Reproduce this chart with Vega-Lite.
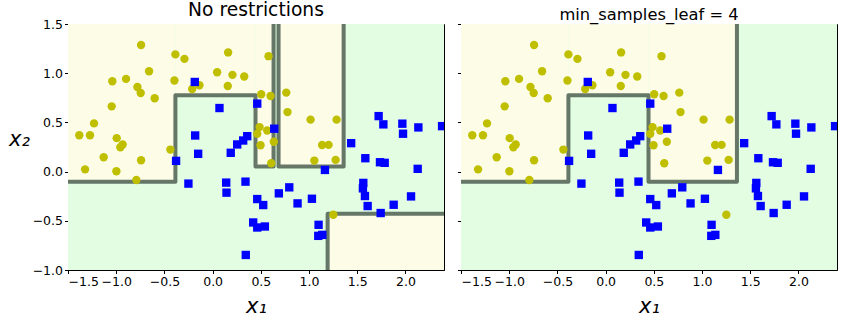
{
  "$schema": "https://vega.github.io/schema/vega-lite/v6.json",
  "padding": {"left": 8, "top": 0, "right": 0, "bottom": 0},
  "bounds": "flush",
  "spacing": 17,
  "config": {
    "font": "DejaVu Sans",
    "view": {"stroke": "black", "strokeWidth": 1},
    "axis": {"domainColor": "black", "tickColor": "black", "labelColor": "black", "labelFontSize": 12.5, "tickSize": 3.5, "labelPadding": 2, "grid": false, "titleColor": "black", "titleFontWeight": "normal", "domainWidth": 1, "tickWidth": 1, "labelFont": "DejaVu Sans"},
    "title": {"fontWeight": "normal", "color": "black", "font": "DejaVu Sans"}
  },
  "datasets": {
    "pts": [
      {"x": -0.742, "y": 1.286, "label": 0}, {"x": -0.386, "y": 1.191, "label": 0}, {"x": -0.292, "y": 1.146, "label": 0}, {"x": 0.161, "y": 1.211, "label": 0},
      {"x": -0.659, "y": 1.02, "label": 0}, {"x": -1.04, "y": 0.918, "label": 0}, {"x": -0.898, "y": 0.942, "label": 0}, {"x": -0.78, "y": 0.86, "label": 0},
      {"x": -0.746, "y": 0.799, "label": 0}, {"x": -0.601, "y": 0.745, "label": 0}, {"x": -0.396, "y": 0.926, "label": 0}, {"x": -0.212, "y": 0.84, "label": 0},
      {"x": -0.137, "y": 0.878, "label": 0}, {"x": 0.047, "y": 1.01, "label": 0}, {"x": 0.206, "y": 0.983, "label": 0}, {"x": 0.328, "y": 0.966, "label": 0},
      {"x": 0.157, "y": 0.87, "label": 0}, {"x": -1.047, "y": 0.663, "label": 0}, {"x": -1.23, "y": 0.49, "label": 0}, {"x": -1.383, "y": 0.37, "label": 0},
      {"x": -1.272, "y": 0.37, "label": 0}, {"x": -0.995, "y": 0.34, "label": 0}, {"x": -0.933, "y": 0.276, "label": 0}, {"x": -0.957, "y": 0.248, "label": 0},
      {"x": -0.438, "y": 0.224, "label": 0}, {"x": 0.504, "y": 0.786, "label": 0}, {"x": 0.601, "y": 0.768, "label": 0}, {"x": 0.764, "y": 0.803, "label": 0},
      {"x": 0.58, "y": 1.173, "label": 0}, {"x": 0.777, "y": 0.605, "label": 0}, {"x": 1.016, "y": 0.528, "label": 0}, {"x": 1.286, "y": 0.528, "label": 0},
      {"x": 0.487, "y": 0.452, "label": 0}, {"x": 0.463, "y": 0.385, "label": 0}, {"x": 0.566, "y": 0.418, "label": 0}, {"x": 0.635, "y": 0.303, "label": 0},
      {"x": 0.497, "y": 0.268, "label": 0}, {"x": 1.136, "y": 0.27, "label": 0}, {"x": 1.203, "y": 0.272, "label": 0}, {"x": -1.13, "y": 0.146, "label": 0},
      {"x": -0.742, "y": 0.115, "label": 0}, {"x": -1.323, "y": 0.023, "label": 0}, {"x": -0.998, "y": 0.003, "label": 0}, {"x": -0.791, "y": -0.085, "label": 0},
      {"x": 0.608, "y": 0.085, "label": 0}, {"x": 1.055, "y": 0.112, "label": 0}, {"x": 1.276, "y": 0.119, "label": 0}, {"x": 1.252, "y": -0.439, "label": 0},
      {"x": -0.185, "y": 0.911, "label": 1}, {"x": 0.071, "y": 0.646, "label": 1}, {"x": 0.463, "y": 0.691, "label": 1}, {"x": -0.181, "y": 0.367, "label": 1},
      {"x": 0.359, "y": 0.36, "label": 1}, {"x": 0.317, "y": 0.316, "label": 1}, {"x": 0.255, "y": 0.276, "label": 1}, {"x": 0.639, "y": 0.436, "label": 1},
      {"x": -0.15, "y": 0.181, "label": 1}, {"x": 0.188, "y": 0.191, "label": 1}, {"x": -0.379, "y": 0.109, "label": 1}, {"x": -0.251, "y": -0.122, "label": 1},
      {"x": 0.141, "y": -0.112, "label": 1}, {"x": 0.144, "y": -0.214, "label": 1}, {"x": 0.341, "y": -0.102, "label": 1}, {"x": 0.463, "y": -0.279, "label": 1},
      {"x": 0.525, "y": -0.34, "label": 1}, {"x": 0.421, "y": -0.517, "label": 1}, {"x": 0.463, "y": -0.568, "label": 1}, {"x": 0.542, "y": -0.558, "label": 1},
      {"x": 0.344, "y": -0.847, "label": 1}, {"x": 0.795, "y": -0.16, "label": 1}, {"x": 0.687, "y": -0.221, "label": 1}, {"x": 0.881, "y": -0.323, "label": 1},
      {"x": 1.03, "y": -0.276, "label": 1}, {"x": 1.099, "y": -0.541, "label": 1}, {"x": 1.096, "y": -0.653, "label": 1}, {"x": 1.138, "y": -0.643, "label": 1},
      {"x": 1.165, "y": 0.017, "label": 1}, {"x": 1.437, "y": 0.289, "label": 1}, {"x": 1.584, "y": 0.136, "label": 1}, {"x": 1.736, "y": 0.095, "label": 1},
      {"x": 1.785, "y": 0.089, "label": 1}, {"x": 2.127, "y": 0.028, "label": 1}, {"x": 1.563, "y": -0.115, "label": 1}, {"x": 1.559, "y": -0.17, "label": 1},
      {"x": 1.58, "y": -0.248, "label": 1}, {"x": 1.608, "y": -0.35, "label": 1}, {"x": 1.878, "y": -0.337, "label": 1}, {"x": 2.058, "y": -0.252, "label": 1},
      {"x": 1.743, "y": -0.421, "label": 1}, {"x": 1.722, "y": 0.564, "label": 1}, {"x": 1.771, "y": 0.48, "label": 1}, {"x": 1.968, "y": 0.487, "label": 1},
      {"x": 1.975, "y": 0.385, "label": 1}, {"x": 2.134, "y": 0.449, "label": 1}, {"x": 2.38, "y": 0.462, "label": 1}
    ],
    "regL": [
      {"x": -1.5, "x2": 2.4, "y": -1, "y2": 1.5, "c": "green"},
      {"x": -1.5, "x2": -0.386, "y": -0.102, "y2": 1.5, "c": "yellow"},
      {"x": -0.386, "x2": 0.445, "y": 0.776, "y2": 1.5, "c": "yellow"},
      {"x": 0.445, "x2": 0.632, "y": 0.051, "y2": 1.5, "c": "yellow"},
      {"x": 0.684, "x2": 1.359, "y": 0.051, "y2": 1.5, "c": "yellow"},
      {"x": 1.193, "x2": 2.4, "y": -1, "y2": -0.429, "c": "yellow"}
    ],
    "regR": [
      {"x": -1.5, "x2": 2.4, "y": -1, "y2": 1.5, "c": "green"},
      {"x": -1.5, "x2": -0.386, "y": -0.102, "y2": 1.5, "c": "yellow"},
      {"x": -0.386, "x2": 0.445, "y": 0.776, "y2": 1.5, "c": "yellow"},
      {"x": 0.445, "x2": 1.362, "y": -0.102, "y2": 1.5, "c": "yellow"}
    ],
    "lineL": [
      {"seg": "a", "i": 0, "x": -1.5, "y": -0.102}, {"seg": "a", "i": 1, "x": -0.386, "y": -0.102}, {"seg": "a", "i": 2, "x": -0.386, "y": 0.776},
      {"seg": "a", "i": 3, "x": 0.445, "y": 0.776}, {"seg": "a", "i": 4, "x": 0.445, "y": 0.051}, {"seg": "a", "i": 5, "x": 0.632, "y": 0.051},
      {"seg": "a", "i": 6, "x": 0.632, "y": 1.5},
      {"seg": "b", "i": 0, "x": 0.684, "y": 1.5}, {"seg": "b", "i": 1, "x": 0.684, "y": 0.051}, {"seg": "b", "i": 2, "x": 1.359, "y": 0.051},
      {"seg": "b", "i": 3, "x": 1.359, "y": 1.5},
      {"seg": "c", "i": 0, "x": 1.193, "y": -1}, {"seg": "c", "i": 1, "x": 1.193, "y": -0.429}, {"seg": "c", "i": 2, "x": 2.4, "y": -0.429}
    ],
    "lineR": [
      {"seg": "a", "i": 0, "x": -1.5, "y": -0.102}, {"seg": "a", "i": 1, "x": -0.386, "y": -0.102}, {"seg": "a", "i": 2, "x": -0.386, "y": 0.776},
      {"seg": "a", "i": 3, "x": 0.445, "y": 0.776}, {"seg": "a", "i": 4, "x": 0.445, "y": -0.102}, {"seg": "a", "i": 5, "x": 1.362, "y": -0.102},
      {"seg": "a", "i": 6, "x": 1.362, "y": 1.5}
    ]
  },
  "hconcat": [
    {
      "width": 376, "height": 246,
      "title": {"text": "No restrictions", "fontSize": 18.7, "offset": -2},
      "layer": [
        {
          "data": {"name": "regL"},
          "mark": {"type": "rect", "clip": true},
          "encoding": {
            "x": {"field": "x", "type": "quantitative", "scale": {"domain": [-1.5, 2.4], "nice": false, "zero": false},
                  "axis": {"values": [-1.5, -1, -0.5, 0, 0.5, 1, 1.5, 2], "format": ".1f", "title": "x₁", "titleFontSize": 21, "titleFontStyle": "italic", "titleY": 42, "titleBaseline": "alphabetic"}},
            "x2": {"field": "x2"},
            "y": {"field": "y", "type": "quantitative", "scale": {"domain": [-1, 1.5], "nice": false, "zero": false},
                  "axis": {"values": [-1, -0.5, 0, 0.5, 1, 1.5], "format": ".1f", "title": "x₂", "titleFontSize": 21, "titleFontStyle": "italic", "titleAngle": 0, "titleX": -49, "titleY": 121, "titleAlign": "center", "titleBaseline": "alphabetic"}},
            "y2": {"field": "y2"},
            "color": {"field": "c", "type": "nominal", "scale": {"domain": ["green", "yellow"], "range": ["#e2fde2", "#fdfde7"]}, "legend": null}
          }
        },
        {
          "data": {"name": "lineL"},
          "mark": {"type": "line", "color": "#56685a", "strokeWidth": 4, "strokeJoin": "round", "clip": true, "opacity": 0.9},
          "encoding": {
            "x": {"field": "x", "type": "quantitative"},
            "y": {"field": "y", "type": "quantitative"},
            "detail": {"field": "seg"},
            "order": {"field": "i"}
          }
        },
        {
          "data": {"name": "pts"},
          "mark": {"type": "point", "filled": true, "opacity": 1, "size": 70, "clip": true},
          "encoding": {
            "x": {"field": "x", "type": "quantitative"},
            "y": {"field": "y", "type": "quantitative"},
            "shape": {"field": "label", "type": "nominal", "scale": {"domain": [0, 1], "range": ["circle", "square"]}, "legend": null},
            "fill": {"field": "label", "type": "nominal", "scale": {"domain": [0, 1], "range": ["#bfbf00", "#0000ff"]}, "legend": null}
          }
        }
      ]
    },
    {
      "width": 376, "height": 246,
      "title": {"text": "min_samples_leaf = 4", "fontSize": 16.3, "offset": 0},
      "layer": [
        {
          "data": {"name": "regR"},
          "mark": {"type": "rect", "clip": true},
          "encoding": {
            "x": {"field": "x", "type": "quantitative", "scale": {"domain": [-1.5, 2.4], "nice": false, "zero": false},
                  "axis": {"values": [-1.5, -1, -0.5, 0, 0.5, 1, 1.5, 2], "format": ".1f", "title": "x₁", "titleFontSize": 21, "titleFontStyle": "italic", "titleY": 42, "titleBaseline": "alphabetic"}},
            "x2": {"field": "x2"},
            "y": {"field": "y", "type": "quantitative", "scale": {"domain": [-1, 1.5], "nice": false, "zero": false},
                  "axis": {"values": [-1, -0.5, 0, 0.5, 1, 1.5], "labels": false, "title": null}},
            "y2": {"field": "y2"},
            "color": {"field": "c", "type": "nominal", "scale": {"domain": ["green", "yellow"], "range": ["#e2fde2", "#fdfde7"]}, "legend": null}
          }
        },
        {
          "data": {"name": "lineR"},
          "mark": {"type": "line", "color": "#56685a", "strokeWidth": 4, "strokeJoin": "round", "clip": true, "opacity": 0.9},
          "encoding": {
            "x": {"field": "x", "type": "quantitative"},
            "y": {"field": "y", "type": "quantitative"},
            "detail": {"field": "seg"},
            "order": {"field": "i"}
          }
        },
        {
          "data": {"name": "pts"},
          "mark": {"type": "point", "filled": true, "opacity": 1, "size": 70, "clip": true},
          "encoding": {
            "x": {"field": "x", "type": "quantitative"},
            "y": {"field": "y", "type": "quantitative"},
            "shape": {"field": "label", "type": "nominal", "scale": {"domain": [0, 1], "range": ["circle", "square"]}, "legend": null},
            "fill": {"field": "label", "type": "nominal", "scale": {"domain": [0, 1], "range": ["#bfbf00", "#0000ff"]}, "legend": null}
          }
        }
      ]
    }
  ]
}
